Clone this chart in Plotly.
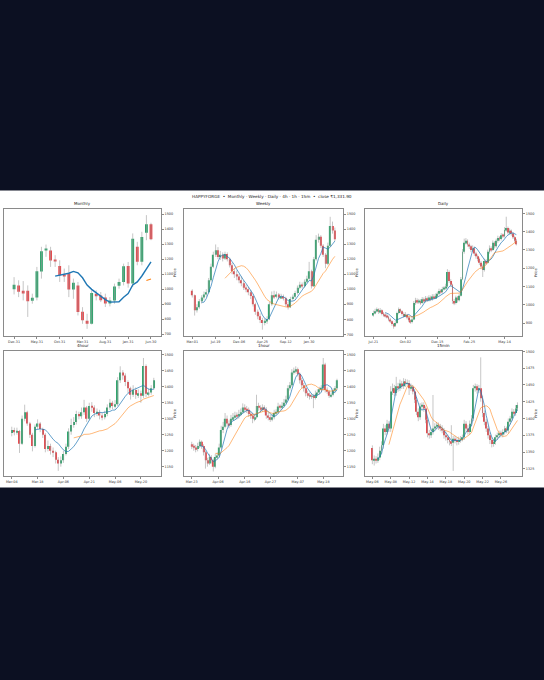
import plotly.graph_objects as go
import pandas as pd

SUPTITLE = "HAPPYFORGE  \u2022  Monthly \u00b7 Weekly \u00b7 Daily \u00b7 4h \u00b7 1h \u00b7 15m  \u2022  close \u20b91,331.90"

UP = "#2ca46b"
DOWN = "#e8474c"
WICK = "#a0a0a0"
BLUE = "#1f77b4"
ORANGE = "#ff7f0e"

# ---- Monthly
m_open = [1000, 1025, 990, 990, 922, 945, 1118, 1258, 1258, 1196, 1155, 1098, 1105, 998, 1025, 850,
          790, 770, 970, 958, 945, 905, 925, 1022, 1048, 1155, 1038, 1282, 1183, 1376, 1432]
m_high = [1080, 1059, 1054, 1025, 970, 1148, 1282, 1297, 1282, 1226, 1192, 1137, 1159, 1070, 1048, 880,
          836, 992, 992, 981, 970, 947, 1037, 1070, 1170, 1181, 1371, 1315, 1382, 1493, 1442]
m_low = [965, 947, 925, 815, 903, 925, 1070, 1215, 1148, 1148, 1048, 1048, 947, 936, 825, 769,
         736, 765, 925, 914, 881, 885, 903, 1003, 1025, 1010, 1015, 1159, 1159, 1326, 1326]
m_close = [1030, 982, 977, 920, 943, 1120, 1252, 1265, 1190, 1188, 1093, 1090, 997, 1042, 848, 793,
           770, 975, 953, 926, 905, 925, 1018, 1048, 1152, 1037, 1335, 1182, 1348, 1432, 1332]
m_tickpos = [0, 5, 10, 15, 20, 25, 30]
m_ticklabels = ["Dec-31", "May-31", "Oct-31", "Mar-31", "Aug-31", "Jan-31", "Jun-30"]

# ---- Weekly
w_open = [990, 960, 860, 880, 920, 945, 965, 980, 1060, 1150, 1230, 1260, 1215, 1230, 1205, 1235,
          1200, 1160, 1120, 1100, 1085, 1060, 1040, 1010, 1000, 980, 955, 900, 850, 820, 795, 775,
          790, 800, 900, 960, 950, 965, 945, 950, 940, 900, 880, 935, 950, 975, 1010, 1030,
          1020, 1050, 1070, 1120, 1020, 1200, 1330, 1350, 1290, 1230, 1170, 1290, 1420, 1390]
w_high = [1000, 965, 900, 935, 960, 985, 1000, 1075, 1170, 1250, 1298, 1280, 1255, 1245, 1250, 1245,
          1210, 1175, 1140, 1125, 1100, 1085, 1060, 1030, 1015, 995, 965, 910, 865, 840, 810, 805,
          820, 915, 985, 990, 985, 975, 970, 965, 950, 915, 950, 965, 990, 1025, 1050, 1045,
          1065, 1090, 1182, 1130, 1215, 1360, 1370, 1360, 1300, 1240, 1310, 1482, 1450, 1410]
w_low = [945, 825, 845, 870, 905, 930, 950, 970, 1050, 1140, 1215, 1200, 1195, 1185, 1195, 1185,
         1145, 1100, 1075, 1060, 1040, 1020, 995, 980, 960, 935, 885, 830, 800, 775, 731, 760,
         770, 795, 890, 935, 940, 930, 935, 925, 885, 865, 875, 925, 940, 965, 1000, 1005,
         1010, 1040, 1060, 1005, 1015, 1190, 1310, 1275, 1215, 1140, 1160, 1280, 1370, 1320]
w_close = [960, 860, 880, 920, 945, 965, 980, 1060, 1150, 1230, 1260, 1215, 1230, 1205, 1235, 1200,
           1160, 1120, 1100, 1085, 1060, 1040, 1010, 1000, 980, 955, 900, 850, 820, 795, 775, 790,
           800, 900, 960, 950, 965, 945, 950, 940, 900, 880, 935, 950, 975, 1010, 1030, 1020,
           1050, 1070, 1120, 1020, 1200, 1330, 1350, 1290, 1230, 1170, 1290, 1420, 1390, 1332]
w_tickpos = [0, 10, 20, 30, 40, 50]
w_ticklabels = ["Mar-01", "Jul-19", "Dec-06", "Apr-25", "Sep-12", "Jan-30"]

# ---- Daily
d_open = [945, 955, 965, 975, 960, 970, 950, 945, 940, 935, 920, 910, 895, 885, 900, 955, 975, 965,
          950, 940, 945, 930, 915, 905, 920, 1010, 1025, 1015, 1020, 1010, 1030, 1020, 1035, 1025,
          1040, 1030, 1045, 1040, 1050, 1060, 1075, 1070, 1085, 1090, 1100, 1180, 1130, 1110, 1020,
          1010, 1040, 1025, 1050, 1140, 1290, 1340, 1350, 1330, 1320, 1300, 1310, 1280, 1265, 1250,
          1230, 1210, 1190, 1240, 1230, 1290, 1310, 1300, 1340, 1320, 1350, 1365, 1360, 1380, 1375,
          1410, 1420, 1395, 1405, 1390, 1370, 1350]
d_high = [968, 978, 985, 980, 982, 975, 960, 955, 950, 940, 928, 915, 900, 910, 962, 985, 980, 970,
          958, 960, 950, 935, 920, 930, 1020, 1038, 1035, 1032, 1030, 1042, 1040, 1048, 1045, 1052,
          1050, 1058, 1058, 1062, 1072, 1088, 1085, 1098, 1102, 1115, 1195, 1188, 1140, 1115, 1032,
          1050, 1048, 1062, 1152, 1305, 1362, 1365, 1358, 1340, 1328, 1325, 1318, 1290, 1275, 1258,
          1240, 1220, 1252, 1250, 1302, 1325, 1320, 1352, 1348, 1362, 1378, 1375, 1392, 1390, 1425,
          1482, 1428, 1418, 1412, 1398, 1378, 1360]
d_low = [935, 948, 958, 950, 952, 942, 935, 930, 925, 910, 900, 885, 869, 878, 895, 948, 955, 940,
         930, 932, 920, 905, 896, 898, 915, 1000, 1005, 1005, 1000, 1005, 1010, 1012, 1015, 1018,
         1020, 1022, 1030, 1032, 1042, 1052, 1060, 1062, 1078, 1082, 1095, 1120, 1098, 1005, 998,
         1002, 1012, 1018, 1045, 1135, 1280, 1330, 1318, 1305, 1288, 1290, 1268, 1252, 1238, 1218,
         1195, 1152, 1182, 1218, 1225, 1280, 1288, 1295, 1308, 1312, 1340, 1348, 1352, 1365, 1368,
         1400, 1385, 1388, 1378, 1360, 1340, 1325]
d_close = [955, 965, 975, 960, 970, 950, 945, 940, 935, 920, 910, 895, 885, 900, 955, 975, 965, 950,
           940, 945, 930, 915, 905, 920, 1010, 1025, 1015, 1020, 1010, 1030, 1020, 1035, 1025, 1040,
           1030, 1045, 1040, 1050, 1060, 1075, 1070, 1085, 1090, 1100, 1180, 1130, 1110, 1020, 1010,
           1040, 1025, 1050, 1140, 1290, 1340, 1350, 1330, 1320, 1300, 1310, 1280, 1265, 1250, 1230,
           1210, 1190, 1240, 1230, 1290, 1310, 1300, 1340, 1320, 1350, 1365, 1360, 1380, 1375, 1410,
           1420, 1395, 1405, 1390, 1370, 1350, 1332]
d_tickpos = [0, 19, 38, 57, 78]
d_ticklabels = ["Jul-21", "Oct-02", "Dec-15", "Feb-25", "May-14"]

# ---- 4 hour
h4_open = [1255, 1265, 1258, 1262, 1222, 1300, 1320, 1285, 1250, 1215, 1275, 1285, 1268, 1250,
           1205, 1215, 1200, 1195, 1172, 1160, 1170, 1190, 1212, 1260, 1280, 1290, 1315, 1308,
           1320, 1335, 1300, 1340, 1335, 1318, 1320, 1310, 1305, 1315, 1335, 1350, 1340, 1345,
           1420, 1445, 1435, 1415, 1395, 1375, 1390, 1375, 1380, 1372, 1465, 1378, 1382, 1395]
h4_high = [1275, 1272, 1272, 1265, 1310, 1344, 1325, 1290, 1256, 1282, 1298, 1290, 1272, 1255,
           1232, 1222, 1210, 1200, 1180, 1182, 1200, 1222, 1270, 1300, 1305, 1325, 1322, 1335,
           1359, 1340, 1350, 1352, 1342, 1332, 1328, 1318, 1325, 1345, 1362, 1356, 1358, 1430,
           1464, 1452, 1442, 1420, 1400, 1405, 1398, 1392, 1388, 1490, 1470, 1395, 1405, 1428]
h4_low = [1245, 1248, 1250, 1193, 1218, 1292, 1278, 1240, 1198, 1210, 1268, 1258, 1240, 1195,
          1198, 1188, 1180, 1160, 1137, 1150, 1162, 1185, 1205, 1250, 1272, 1282, 1298, 1300,
          1312, 1290, 1295, 1322, 1305, 1308, 1298, 1295, 1298, 1308, 1328, 1330, 1332, 1340,
          1412, 1422, 1402, 1380, 1360, 1368, 1362, 1365, 1350, 1365, 1368, 1370, 1375, 1390]
h4_close = [1265, 1258, 1262, 1222, 1300, 1320, 1285, 1250, 1215, 1275, 1285, 1268, 1250, 1205,
            1215, 1200, 1195, 1172, 1160, 1170, 1190, 1212, 1260, 1280, 1290, 1315, 1308, 1320,
            1335, 1300, 1340, 1335, 1318, 1320, 1310, 1305, 1315, 1335, 1350, 1340, 1345, 1420,
            1445, 1435, 1415, 1395, 1375, 1390, 1375, 1380, 1372, 1465, 1378, 1382, 1395, 1420]
h4_tickpos = [0, 10, 20, 30, 40, 50]
h4_ticklabels = ["Mar-04", "Mar-18", "Apr-06", "Apr-21", "May-06", "May-20"]

# ---- 1 hour
h1_open = [1220, 1215, 1210, 1205, 1215, 1228, 1215, 1195, 1170, 1160, 1180, 1170, 1150, 1180, 1185,
           1210, 1265, 1275, 1300, 1285, 1280, 1300, 1305, 1310, 1308, 1315, 1320, 1335, 1330, 1328,
           1315, 1310, 1300, 1305, 1340, 1335, 1330, 1335, 1330, 1310, 1305, 1300, 1305, 1318, 1320,
           1338, 1335, 1340, 1350, 1360, 1395, 1405, 1445, 1450, 1455, 1440, 1420, 1405, 1395, 1380,
           1375, 1370, 1372, 1365, 1378, 1382, 1392, 1395, 1470, 1390, 1385, 1372, 1375, 1388, 1395]
h1_high = [1228, 1222, 1218, 1225, 1235, 1232, 1220, 1200, 1178, 1190, 1186, 1175, 1190, 1195, 1222,
           1278, 1290, 1318, 1310, 1295, 1312, 1318, 1322, 1320, 1328, 1332, 1348, 1345, 1340, 1335,
           1322, 1318, 1315, 1375, 1350, 1342, 1345, 1342, 1336, 1318, 1312, 1315, 1328, 1330, 1350,
           1345, 1352, 1362, 1372, 1405, 1415, 1455, 1460, 1464, 1460, 1445, 1428, 1412, 1400, 1388,
           1382, 1380, 1378, 1388, 1392, 1400, 1405, 1490, 1475, 1398, 1390, 1382, 1395, 1402, 1425]
h1_low = [1205, 1200, 1195, 1198, 1208, 1206, 1185, 1144, 1150, 1155, 1160, 1135, 1145, 1172, 1178,
          1205, 1255, 1270, 1275, 1270, 1275, 1292, 1298, 1298, 1300, 1308, 1315, 1320, 1318, 1306,
          1300, 1286, 1292, 1300, 1325, 1320, 1322, 1320, 1300, 1295, 1290, 1292, 1298, 1310, 1315,
          1328, 1330, 1335, 1345, 1355, 1388, 1400, 1438, 1442, 1432, 1410, 1395, 1385, 1370, 1365,
          1360, 1362, 1333, 1360, 1370, 1375, 1385, 1388, 1382, 1378, 1365, 1366, 1370, 1380, 1390]
h1_close = [1215, 1210, 1205, 1215, 1228, 1215, 1195, 1170, 1160, 1180, 1170, 1150, 1180, 1185, 1210,
            1265, 1275, 1300, 1285, 1280, 1300, 1305, 1310, 1308, 1315, 1320, 1335, 1330, 1328, 1315,
            1310, 1300, 1305, 1340, 1335, 1330, 1335, 1330, 1310, 1305, 1300, 1305, 1318, 1320, 1338,
            1335, 1340, 1350, 1360, 1395, 1405, 1445, 1450, 1455, 1440, 1420, 1405, 1395, 1380, 1375,
            1370, 1372, 1365, 1378, 1382, 1392, 1395, 1470, 1390, 1385, 1372, 1375, 1388, 1395, 1420]
h1_tickpos = [0, 13.4, 27.0, 40.1, 54.0, 67.1]
h1_ticklabels = ["Mar-23", "Apr-06", "Apr-16", "Apr-27", "May-07", "May-18"]

# ---- 15 min
m15_open = [1356, 1338, 1340, 1337, 1342, 1352, 1360, 1385, 1380, 1392, 1385, 1440, 1445, 1438, 1448,
            1445, 1452, 1448, 1455, 1452, 1453, 1445, 1447, 1440, 1428, 1410, 1402, 1418, 1420, 1415,
            1398, 1378, 1375, 1380, 1385, 1388, 1390, 1388, 1385, 1382, 1375, 1372, 1368, 1366, 1364,
            1370, 1368, 1365, 1368, 1370, 1372, 1392, 1385, 1380, 1392, 1400, 1445, 1448, 1442, 1445,
            1430, 1408, 1395, 1385, 1375, 1368, 1362, 1365, 1372, 1375, 1378, 1376, 1380, 1385, 1382,
            1395, 1400, 1410, 1408, 1415]
m15_high = [1360, 1345, 1344, 1348, 1358, 1366, 1392, 1390, 1398, 1396, 1448, 1452, 1450, 1462, 1453,
            1458, 1456, 1460, 1459, 1458, 1457, 1452, 1450, 1444, 1432, 1415, 1423, 1424, 1424, 1418,
            1402, 1383, 1385, 1435, 1393, 1395, 1394, 1392, 1390, 1386, 1380, 1376, 1372, 1390, 1374,
            1374, 1372, 1373, 1374, 1376, 1398, 1396, 1390, 1397, 1405, 1450, 1452, 1451, 1450, 1491,
            1434, 1412, 1399, 1389, 1379, 1372, 1369, 1376, 1379, 1382, 1382, 1384, 1389, 1388, 1400,
            1404, 1415, 1414, 1420, 1424]
m15_low = [1332, 1330, 1333, 1334, 1338, 1347, 1355, 1375, 1376, 1380, 1380, 1435, 1433, 1434, 1440,
           1441, 1444, 1444, 1447, 1448, 1435, 1441, 1436, 1423, 1405, 1396, 1398, 1413, 1410, 1393,
           1372, 1370, 1371, 1376, 1381, 1384, 1383, 1381, 1378, 1370, 1367, 1363, 1360, 1359, 1322,
           1363, 1360, 1361, 1364, 1366, 1368, 1380, 1376, 1376, 1388, 1396, 1440, 1437, 1438, 1425,
           1402, 1390, 1380, 1370, 1362, 1357, 1358, 1361, 1368, 1371, 1372, 1372, 1376, 1378, 1378,
           1391, 1396, 1404, 1404, 1411]
m15_close = [1338, 1340, 1337, 1342, 1352, 1360, 1385, 1380, 1392, 1385, 1440, 1445, 1438, 1448, 1445,
             1452, 1448, 1455, 1452, 1453, 1445, 1447, 1440, 1428, 1410, 1402, 1418, 1420, 1415, 1398,
             1378, 1375, 1380, 1385, 1388, 1390, 1388, 1385, 1382, 1375, 1372, 1368, 1366, 1364, 1370,
             1368, 1365, 1368, 1370, 1372, 1392, 1385, 1380, 1392, 1400, 1445, 1448, 1442, 1445, 1430,
             1408, 1395, 1385, 1375, 1368, 1362, 1365, 1372, 1375, 1378, 1376, 1380, 1385, 1382, 1395,
             1400, 1410, 1408, 1415, 1420]
m15_tickpos = [0, 10, 20, 30, 40, 50, 60, 70]
m15_ticklabels = ["May-06", "May-08", "May-12", "May-14", "May-18", "May-20", "May-22", "May-26"]

panels = [
    dict(title="Monthly", o=m_open, h=m_high, l=m_low, c=m_close, ma=(10, 30), tp=m_tickpos,
         tl=m_ticklabels, xr=[-2.2, 32.2], yr=[688, 1531], dt=100, w=0.62, lw=1.4),
    dict(title="Weekly", o=w_open, h=w_high, l=w_low, c=w_close, ma=(5, 15), tp=w_tickpos,
         tl=w_ticklabels, xr=[-3.6, 64.6], yr=[689, 1531], dt=100, w=0.5, lw=0.7),
    dict(title="Daily", o=d_open, h=d_high, l=d_low, c=d_close, ma=(8, 20), tp=d_tickpos,
         tl=d_ticklabels, xr=[-5, 88.5], yr=[829, 1522], dt=100, w=0.5, lw=0.7),
    dict(title="4hour", o=h4_open, h=h4_high, l=h4_low, c=h4_close, ma=(10, 25), tp=h4_tickpos,
         tl=h4_ticklabels, xr=[-3, 57.8], yr=[1120, 1513], dt=50, w=0.5, lw=0.7),
    dict(title="1hour", o=h1_open, h=h1_high, l=h1_low, c=h1_close, ma=(5, 13), tp=h1_tickpos,
         tl=h1_ticklabels, xr=[-4, 77.2], yr=[1120, 1513], dt=50, w=0.5, lw=0.7),
    dict(title="15min", o=m15_open, h=m15_high, l=m15_low, c=m15_close, ma=(4, 10), tp=m15_tickpos,
         tl=m15_ticklabels, xr=[-4, 81.6], yr=[1314, 1501], dt=25, w=0.5, lw=0.7),
]

col_dom = [[0.0074, 0.296], [0.338, 0.631], [0.671, 0.96]]
row_dom = [[0.5059, 0.6926], [0.2990, 0.4843]]

FONT = "DejaVu Sans"
fig = go.Figure()
annotations = []

for k, p in enumerate(panels):
    n = k + 1
    xa = "x" if n == 1 else f"x{n}"
    ya = "y" if n == 1 else f"y{n}"
    idx = list(range(len(p["c"])))

    # wicks
    wx, wy = [], []
    for i in idx:
        wx += [i, i, None]
        wy += [p["l"][i], p["h"][i], None]
    fig.add_trace(go.Scatter(x=wx, y=wy, mode="lines", line=dict(color=WICK, width=0.6),
                             xaxis=xa, yaxis=ya, hoverinfo="skip"))

    # bodies
    base = [min(o, c) for o, c in zip(p["o"], p["c"])]
    height = [abs(c - o) for o, c in zip(p["o"], p["c"])]
    colors = [UP if c >= o else DOWN for o, c in zip(p["o"], p["c"])]
    fig.add_trace(go.Bar(x=idx, y=height, base=base, width=p["w"],
                         marker=dict(color=colors, line=dict(width=0)),
                         xaxis=xa, yaxis=ya))

    # moving averages
    close = pd.Series(p["c"])
    fast, slow = p["ma"]
    fig.add_trace(go.Scatter(x=idx, y=close.rolling(fast).mean(), mode="lines",
                             line=dict(color=BLUE, width=p["lw"]), xaxis=xa, yaxis=ya))
    fig.add_trace(go.Scatter(x=idx, y=close.rolling(slow).mean(), mode="lines",
                             line=dict(color=ORANGE, width=p["lw"] * 0.8), xaxis=xa, yaxis=ya))

    r, cix = divmod(k, 3)
    xd = col_dom[cix]
    yd = row_dom[r]
    axis_common = dict(showline=True, mirror=True, linecolor="#8a8a8a", linewidth=0.7,
                       ticks="outside", ticklen=2, tickwidth=0.6, tickcolor="#8a8a8a",
                       showgrid=False, zeroline=False,
                       tickfont=dict(family=FONT, size=3.4, color="#333333"))
    fig.layout[f"xaxis{n}"] = dict(domain=xd, anchor=ya, range=p["xr"], tickmode="array",
                                   tickvals=p["tp"], ticktext=p["tl"], **axis_common)
    fig.layout[f"yaxis{n}"] = dict(domain=yd, anchor=xa, range=p["yr"], side="right",
                                   dtick=p["dt"], tick0=0,
                                   title=dict(text="Price", standoff=1,
                                              font=dict(family=FONT, size=3.6, color="#333333")),
                                   **axis_common)
    annotations.append(dict(text=p["title"], x=(xd[0] + xd[1]) / 2, y=yd[1], xref="paper",
                            yref="paper", xanchor="center", yanchor="bottom", yshift=1,
                            showarrow=False, font=dict(family=FONT, size=4, color="#222222")))

annotations.append(dict(text=SUPTITLE, x=0.5, y=1 - 196 / 680, xref="paper", yref="paper",
                        xanchor="center", yanchor="middle", showarrow=False,
                        font=dict(family=FONT, size=4.2, color="#222222")))

fig.update_layout(
    width=544, height=680,
    margin=dict(l=0, r=0, t=0, b=0),
    paper_bgcolor="#0c1022",
    plot_bgcolor="white",
    showlegend=False,
    annotations=annotations,
    shapes=[dict(type="rect", xref="paper", yref="paper", x0=0, x1=1,
                 y0=1 - 488 / 680, y1=1 - 190 / 680, fillcolor="white",
                 line=dict(width=0), layer="below")],
)

fig.write_html("out.html", config={"displayModeBar": False},
               post_script="document.body.style.margin='0';document.body.style.background='#0c1022';")
